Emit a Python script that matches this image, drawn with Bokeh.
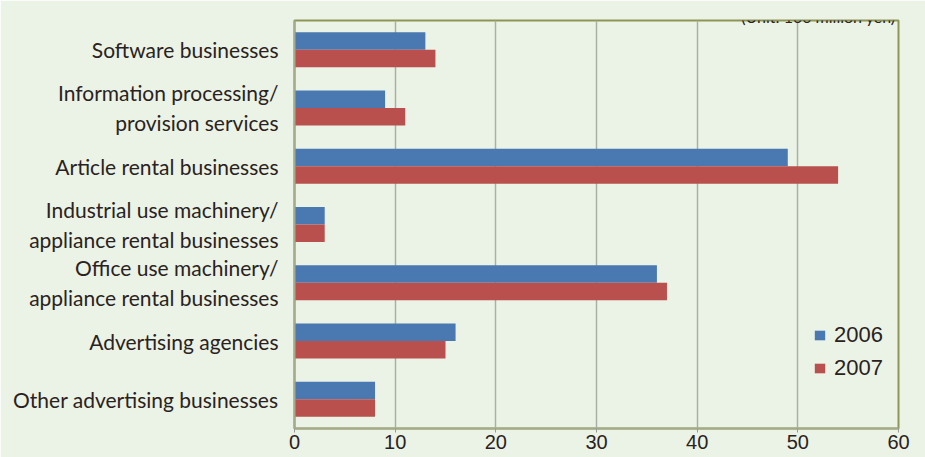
from bokeh.plotting import figure
from bokeh.models import FactorRange, Legend, LegendItem, Label
from bokeh.transform import dodge
from bokeh.embed import file_html
from bokeh.resources import INLINE

categories = [
    "Software businesses",
    "Information processing/\nprovision services",
    "Article rental businesses",
    "Industrial use machinery/\nappliance rental businesses",
    "Office use machinery/\nappliance rental businesses",
    "Advertising agencies",
    "Other advertising businesses",
]
values_2006 = [13, 9, 49, 3, 36, 16, 8]
values_2007 = [14, 11, 54, 3, 37, 15, 8]
series_names = ["2006", "2007"]
x_ticks = [0, 10, 20, 30, 40, 50, 60]
unit_text = "(Unit: 100 million yen)"

BG = "#ebf2e6"
BLUE = "#4a78b0"
RED = "#b9504d"
TXT = "#2a2220"

factors = list(reversed(categories))
src = dict(cat=categories, v2006=values_2006, v2007=values_2007)

p = figure(
    y_range=FactorRange(*factors, range_padding=0),
    x_range=(0, 60),
    frame_width=604, frame_height=408,
    min_border_left=294, min_border_right=27, min_border_top=20, min_border_bottom=29,
    output_backend="svg", toolbar_location=None,
    background_fill_color=BG, border_fill_color=BG,
)
p.outline_line_color = "#8e9555"
p.outline_line_width = 2

r1 = p.hbar(y=dodge("cat", 0.15, range=p.y_range), right="v2006", left=0, height=0.3,
            source=src, fill_color=BLUE, line_color=None)
r2 = p.hbar(y=dodge("cat", -0.15, range=p.y_range), right="v2007", left=0, height=0.3,
            source=src, fill_color=RED, line_color=None)

p.xgrid.grid_line_color = "#aab0a4"
p.xgrid.grid_line_width = 1.5
p.ygrid.grid_line_color = None

p.xaxis.ticker = x_ticks
p.xaxis.axis_line_color = "#a4ab8c"
p.xaxis.axis_line_width = 2
p.xaxis.major_tick_line_color = "#9a9a9a"
p.xaxis.major_tick_out = 4
p.xaxis.major_tick_in = 0
p.xaxis.minor_tick_line_color = None
p.xaxis.major_label_text_font = "Liberation Sans"
p.xaxis.major_label_text_font_size = "20px"
p.xaxis.major_label_text_color = TXT
p.xaxis.major_label_standoff = 2

p.yaxis.axis_line_color = "#a4ab8c"
p.yaxis.axis_line_width = 2
p.yaxis.major_tick_line_color = None
p.yaxis.minor_tick_line_color = None
p.yaxis.major_label_text_font = "Lato"
p.yaxis.major_label_text_font_size = "21px"
p.yaxis.major_label_text_color = TXT
p.yaxis.major_label_standoff = 10

legend = Legend(items=[LegendItem(label=series_names[0], renderers=[r1]),
                       LegendItem(label=series_names[1], renderers=[r2])],
                location=(519, 47))
legend.background_fill_alpha = 0
legend.border_line_color = None
legend.glyph_width = 13
legend.glyph_height = 12
legend.label_text_font = "Liberation Sans"
legend.label_text_font_size = "22px"
legend.label_text_color = TXT
legend.label_standoff = 8
legend.spacing = 7
legend.padding = 0
legend.margin = 0
p.add_layout(legend, "center")

unit = Label(x=60, y=7, x_offset=-3, y_offset=4, text=unit_text,
             text_align="right", text_baseline="alphabetic",
             text_font="Lato", text_font_size="16px", text_color=TXT)
p.add_layout(unit)

open("out.html", "w").write(file_html(p, INLINE))
